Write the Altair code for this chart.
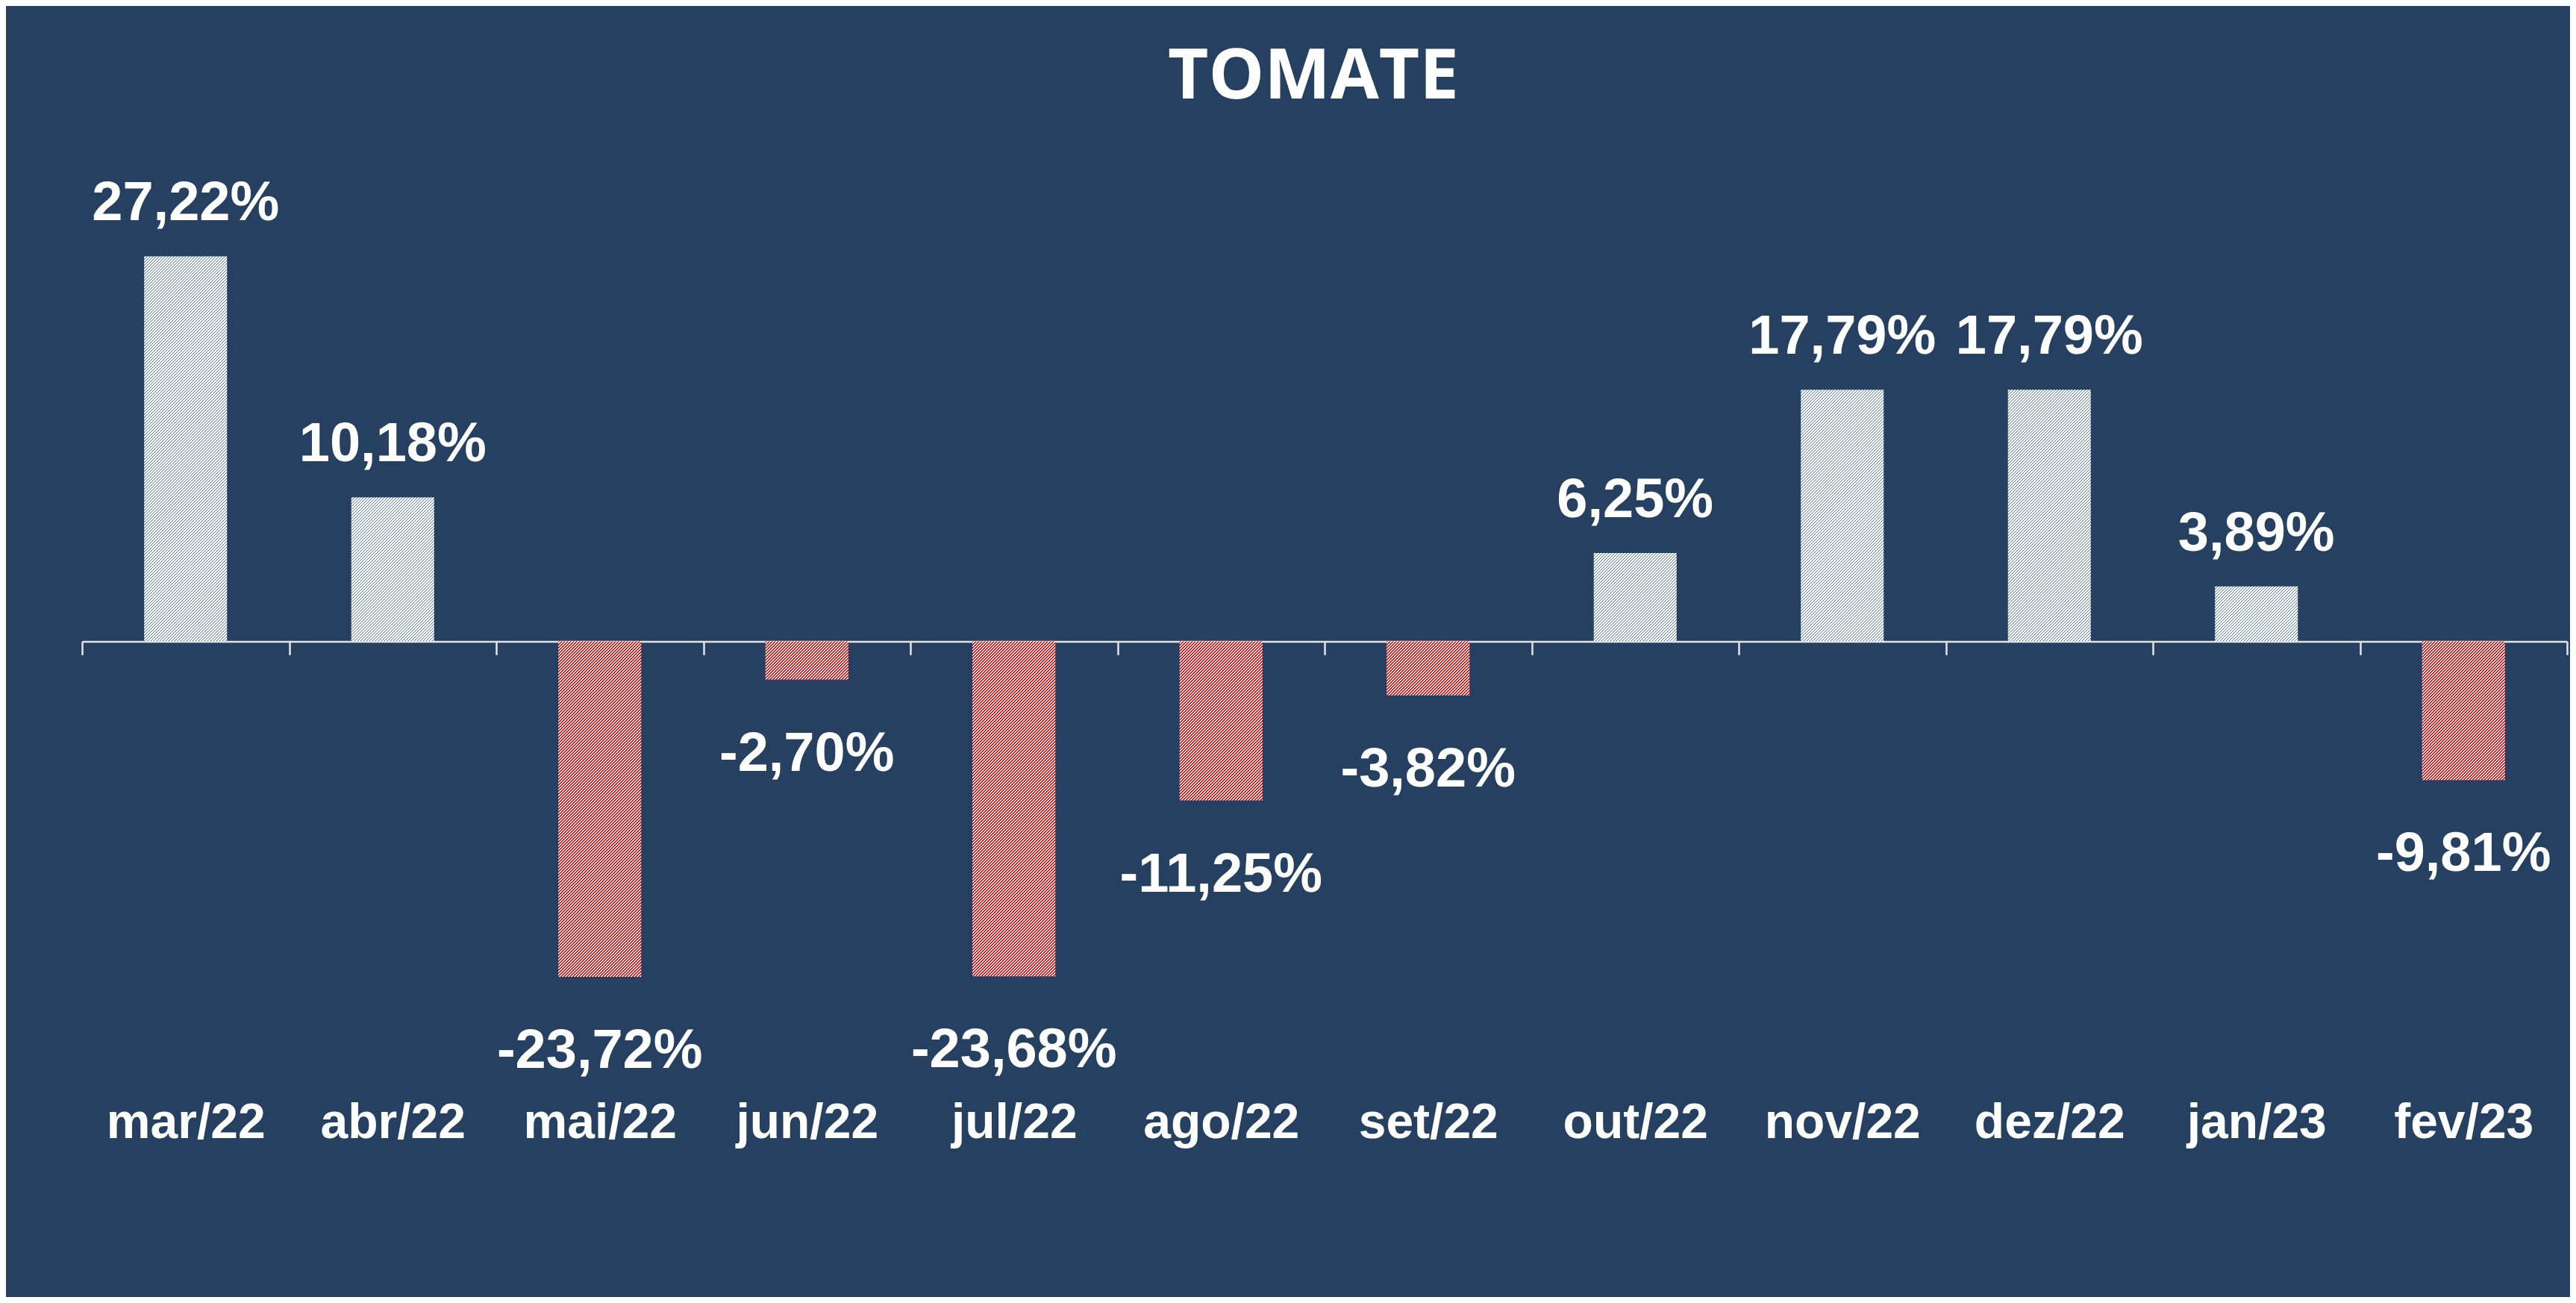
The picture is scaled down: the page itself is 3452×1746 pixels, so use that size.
import math
import altair as alt
import pandas as pd

# ---- data -------------------------------------------------------------
meses = ["mar/22", "abr/22", "mai/22", "jun/22", "jul/22", "ago/22",
         "set/22", "out/22", "nov/22", "dez/22", "jan/23", "fev/23"]
variacao = [27.22, 10.18, -23.72, -2.70, -23.68, -11.25,
            -3.82, 6.25, 17.79, 17.79, 3.89, -9.81]
titulo = "TOMATE"

rotulos = [("%.2f" % v).replace(".", ",") + "%" for v in variacao]
df = pd.DataFrame({"mes": meses, "valor": variacao, "rotulo": rotulos})

# ---- layout / style ---------------------------------------------------
W, H = 3330, 1232
Y_DOMAIN = [-30, 35]
PX = H / (Y_DOMAIN[1] - Y_DOMAIN[0])          # pixels per percentage point
BAND = W / len(meses)
BAR_FRAC = 0.4
BAR_W = BAND * BAR_FRAC
BG = "#264061"
AXIS_COL = "#e4e4e4"
BLUE = "#4472c4"
RED = "#ff0000"
PERIOD = 4.0


def hatch(v, fg, frac):
    """Diagonal '/' hatch built as a hard-stop linear gradient."""
    h = abs(v) * PX
    w = BAR_W
    L = w + h
    x2 = L * w / (w * w + h * h)
    y2 = L * h / (w * w + h * h)
    stops = []
    n = int(math.ceil(L / PERIOD))
    for k in range(n):
        a = round(k * PERIOD / L, 6)
        b = round(min((k + frac) * PERIOD / L, 1.0), 6)
        c = round(min((k + 1) * PERIOD / L, 1.0), 6)
        stops += [{"offset": a, "color": fg}, {"offset": b, "color": fg},
                  {"offset": b, "color": "#ffffff"}, {"offset": c, "color": "#ffffff"}]
    return {"gradient": "linear", "x1": 0, "y1": 0, "x2": x2, "y2": y2, "stops": stops}


y0_rel = Y_DOMAIN[1] * PX
x_enc = alt.X(
    "mes:N", sort=meses,
    scale=alt.Scale(domain=meses, paddingInner=0, paddingOuter=0),
    axis=alt.Axis(
        title=None, labelAngle=0, labelFont="Liberation Sans", labelFontSize=66,
        labelFontWeight="bold", labelColor="#ffffff", labelPadding=627,
        labelBaseline="middle", labelLimit=0, labelOverlap=False,
        domainColor=AXIS_COL, domainWidth=2.5, tickColor=AXIS_COL, tickWidth=2.5,
        tickSize=18, tickBand="extent", grid=False, offset=y0_rel - H,
    ),
)
y_enc = alt.Y("valor:Q", scale=alt.Scale(domain=Y_DOMAIN, nice=False, zero=True), axis=None)

layers = []
for m, v in zip(meses, variacao):
    fill = hatch(v, BLUE, 0.25) if v >= 0 else hatch(v, RED, 0.5)
    layers.append(
        alt.Chart(df).transform_filter(alt.datum.mes == m)
        .mark_bar(fill=fill, width=alt.RelativeBandSize(BAR_FRAC), strokeWidth=0)
        .encode(x=x_enc, y=y_enc)
    )

label_style = dict(font="Liberation Sans", fontSize=74, fontWeight="bold",
                   color="#ffffff", baseline="middle", align="center")
pos_lab = (alt.Chart(df).transform_filter(alt.datum.valor >= 0)
           .mark_text(dy=-70, **label_style)
           .encode(x=x_enc, y=y_enc, text="rotulo:N"))
neg_lab = (alt.Chart(df).transform_filter(alt.datum.valor < 0)
           .mark_text(dy=100, **label_style)
           .encode(x=x_enc, y=y_enc, text="rotulo:N"))

chart = (
    alt.layer(*layers, pos_lab, neg_lab)
    .properties(
        width=W, height=H,
        title=alt.TitleParams(
            titulo, font="Open Sans", fontSize=94, fontWeight="bold",
            color="#ffffff", anchor="middle", baseline="alphabetic",
            offset=-30, dx=-15,
        ),
        padding={"left": 102, "top": 188, "right": 4, "bottom": 310},
        autosize=alt.AutoSizeParams(type="none"),
        background=BG,
    )
    .configure_view(stroke=None)
)

chart.save("out.html", embed_options={"renderer": "svg", "actions": False})
